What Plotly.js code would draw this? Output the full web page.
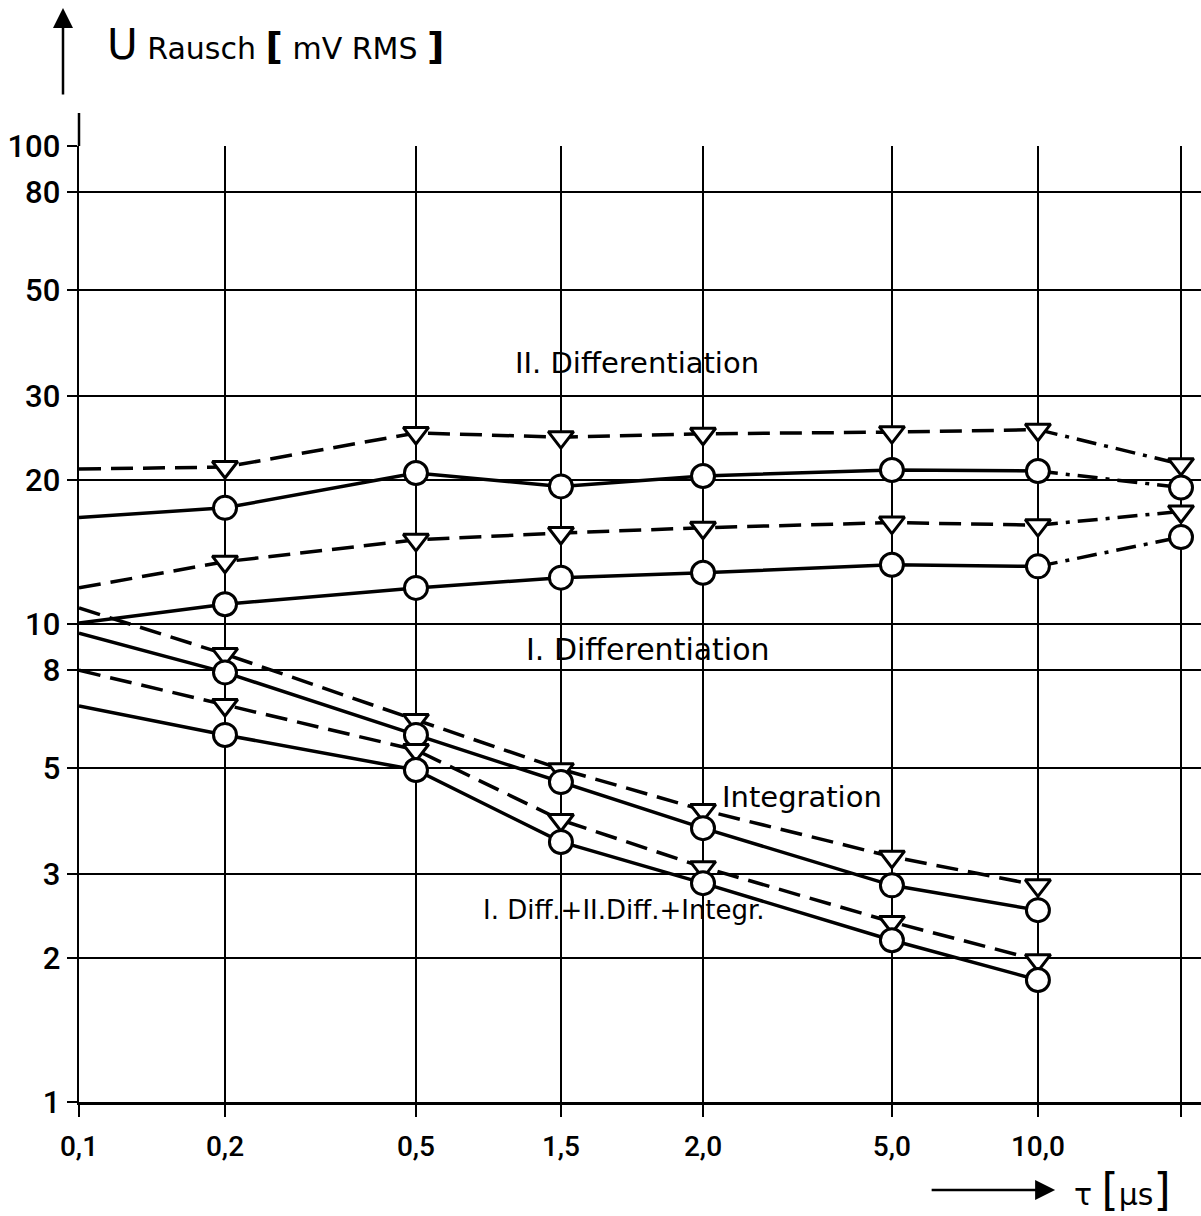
<!DOCTYPE html>
<html><head><meta charset="utf-8">
<script src="https://cdn.plot.ly/plotly-3.0.1.min.js"></script>
<style>html,body{margin:0;padding:0;background:#fff}</style>
</head><body><div id="chart" style="width:1201px;height:1216px"></div>
<script>
// ---- data ----
const tauLabels = ['0,1', '0,2', '0,5', '1,5', '2,0', '5,0', '10,0', ''];
const yTickVals = [1, 2, 3, 5, 8, 10, 20, 30, 50, 80, 100];
const yTickText = ['1', '2', '3', '5', '8', '10', '20', '30', '50', '80', '100'];

const diff2Tri  = [21.1, 21.3, 25.1, 24.6, 25.0, 25.2, 25.5, 21.6];
const diff2Circ = [16.7, 17.5, 20.7, 19.4, 20.4, 21.0, 20.9, 19.3];
const diff1Tri  = [11.9, 13.5, 15.0, 15.5, 15.9, 16.3, 16.1, 17.2];
const diff1Circ = [10.05, 11.0, 11.9, 12.5, 12.8, 13.3, 13.2, 15.2];
const integTri  = [10.8, 8.65, 6.3, 4.97, 4.08, 3.26, 2.84];
const integCirc = [9.57, 7.92, 5.86, 4.67, 3.74, 2.84, 2.52];
const combTri   = [8.0, 6.77, 5.45, 3.89, 3.10, 2.38, 1.98];
const combCirc  = [6.74, 5.86, 4.95, 3.50, 2.87, 2.18, 1.80];

// axis positions of the tau columns (the original drawing spaces them irregularly)
const tauAxisPos = [0, 1, 2.308, 3.301, 4.274, 5.568, 6.568, 7.548];

// ---- styles ----
const DASH = '22px,10px';
const DASHDOT = '20px,8px,4px,8px';
const TRI = {symbol: 'triangle-down', size: 22};
const CIRC = {symbol: 'circle', size: 23};

const series = [
  {v: diff2Tri,  m: TRI,  dash: DASH},
  {v: diff2Circ, m: CIRC, dash: 'solid'},
  {v: diff1Tri,  m: TRI,  dash: DASH},
  {v: diff1Circ, m: CIRC, dash: 'solid'},
  {v: integTri,  m: TRI,  dash: DASH},
  {v: integCirc, m: CIRC, dash: 'solid'},
  {v: combTri,   m: TRI,  dash: DASH},
  {v: combCirc,  m: CIRC, dash: 'solid'}
];

const traces = [];
// lines first
series.forEach(s => {
  const n = Math.min(s.v.length, 7);
  traces.push({x: tauAxisPos.slice(0, n), y: s.v.slice(0, n), mode: 'lines',
    line: {color: '#000', width: 3.5, dash: s.dash}, hoverinfo: 'skip', showlegend: false});
  if (s.v.length > 7) {
    traces.push({x: tauAxisPos.slice(6, 8), y: s.v.slice(6, 8), mode: 'lines',
      line: {color: '#000', width: 3.5, dash: DASHDOT}, hoverinfo: 'skip', showlegend: false});
  }
});
// markers on top (no marker at the first column)
series.forEach(s => {
  traces.push({x: tauAxisPos.slice(1, s.v.length), y: s.v.slice(1), mode: 'markers',
    marker: {symbol: s.m.symbol, size: s.m.size, color: '#fff', line: {color: '#000', width: 3}},
    cliponaxis: false, hoverinfo: 'skip', showlegend: false});
});

const F = 'DejaVu Sans, sans-serif';
const FT = 'Roboto, DejaVu Sans, sans-serif';
const layout = {
  width: 1201, height: 1216,
  margin: {l: 79, r: 0, t: 146, b: 114},
  paper_bgcolor: '#fff', plot_bgcolor: '#fff',
  font: {family: F, color: '#000'},
  xaxis: {range: [0, 7.685], tickmode: 'array', tickvals: tauAxisPos, ticktext: tauLabels,
    showgrid: true, gridcolor: '#000', gridwidth: 1.8, zeroline: false,
    showline: true, linecolor: '#000', linewidth: 3,
    ticks: 'outside', ticklen: 12, tickwidth: 1.8, tickcolor: '#000',
    ticklabelstandoff: 5, tickfont: {family: FT, size: 28, weight: 500, color: '#000'}},
  yaxis: {type: 'log', range: [0, 2], tickmode: 'array', tickvals: yTickVals, ticktext: yTickText,
    showgrid: true, gridcolor: '#000', gridwidth: 1.8, zeroline: false,
    showline: true, linecolor: '#000', linewidth: 2.5,
    ticks: 'outside', ticklen: 10, tickwidth: 1.8, tickcolor: '#000',
    tickfont: {family: FT, size: 31, weight: 500, color: '#000'}},
  shapes: [
    {type: 'line', xref: 'paper', yref: 'paper', x0: 0, x1: 0, y0: 1, y1: 1.0345,
      line: {color: '#000', width: 2.5}}
  ],
  annotations: [
    {text: 'II. Differentiation', x: 3.82, y: 1.546, xref: 'x', yref: 'y', showarrow: false,
      font: {family: F, size: 29, color: '#000'}},
    {text: 'I. Differentiation', x: 3.90, y: 0.946, xref: 'x', yref: 'y', showarrow: false,
      font: {family: F, size: 30, color: '#000'}},
    {text: 'Integration', x: 4.95, y: 0.638, xref: 'x', yref: 'y', showarrow: false,
      font: {family: F, size: 29, color: '#000'}},
    {text: 'I. Diff.+II.Diff.+Integr.', x: 3.73, y: 0.402, xref: 'x', yref: 'y', showarrow: false,
      font: {family: F, size: 26, color: '#000'}},
    // y-axis title with arrow
    {text: '<span style="font-size:42px">U</span> Rausch <b style="font-size:38px">[</b> mV RMS <b style="font-size:38px">]</b>',
      xref: 'paper', yref: 'paper', x: 0.0232, y: 1.1057, xanchor: 'left', yanchor: 'middle',
      showarrow: false, font: {family: F, size: 30, color: '#000'}},
    {text: '', xref: 'paper', yref: 'paper', x: -0.01426, y: 1.1444, ax: 0, ay: 88,
      showarrow: true, arrowhead: 2, arrowsize: 1.6, arrowwidth: 2.5, arrowcolor: '#000'},
    // x-axis title with arrow
    {text: '', xref: 'paper', yref: 'paper', x: 0.870, y: -0.092, ax: -125, ay: 0,
      showarrow: true, arrowhead: 2, arrowsize: 1.6, arrowwidth: 2.5, arrowcolor: '#000'},
    {text: 'τ <span style="font-size:44px">[</span>μs<span style="font-size:44px">]</span>',
      xref: 'paper', yref: 'paper', x: 0.885, y: -0.092, xanchor: 'left', yanchor: 'middle',
      showarrow: false, font: {family: F, size: 30, color: '#000'}}
  ]
};

Plotly.newPlot('chart', traces, layout, {staticPlot: true, displayModeBar: false});
</script>
</body></html>
